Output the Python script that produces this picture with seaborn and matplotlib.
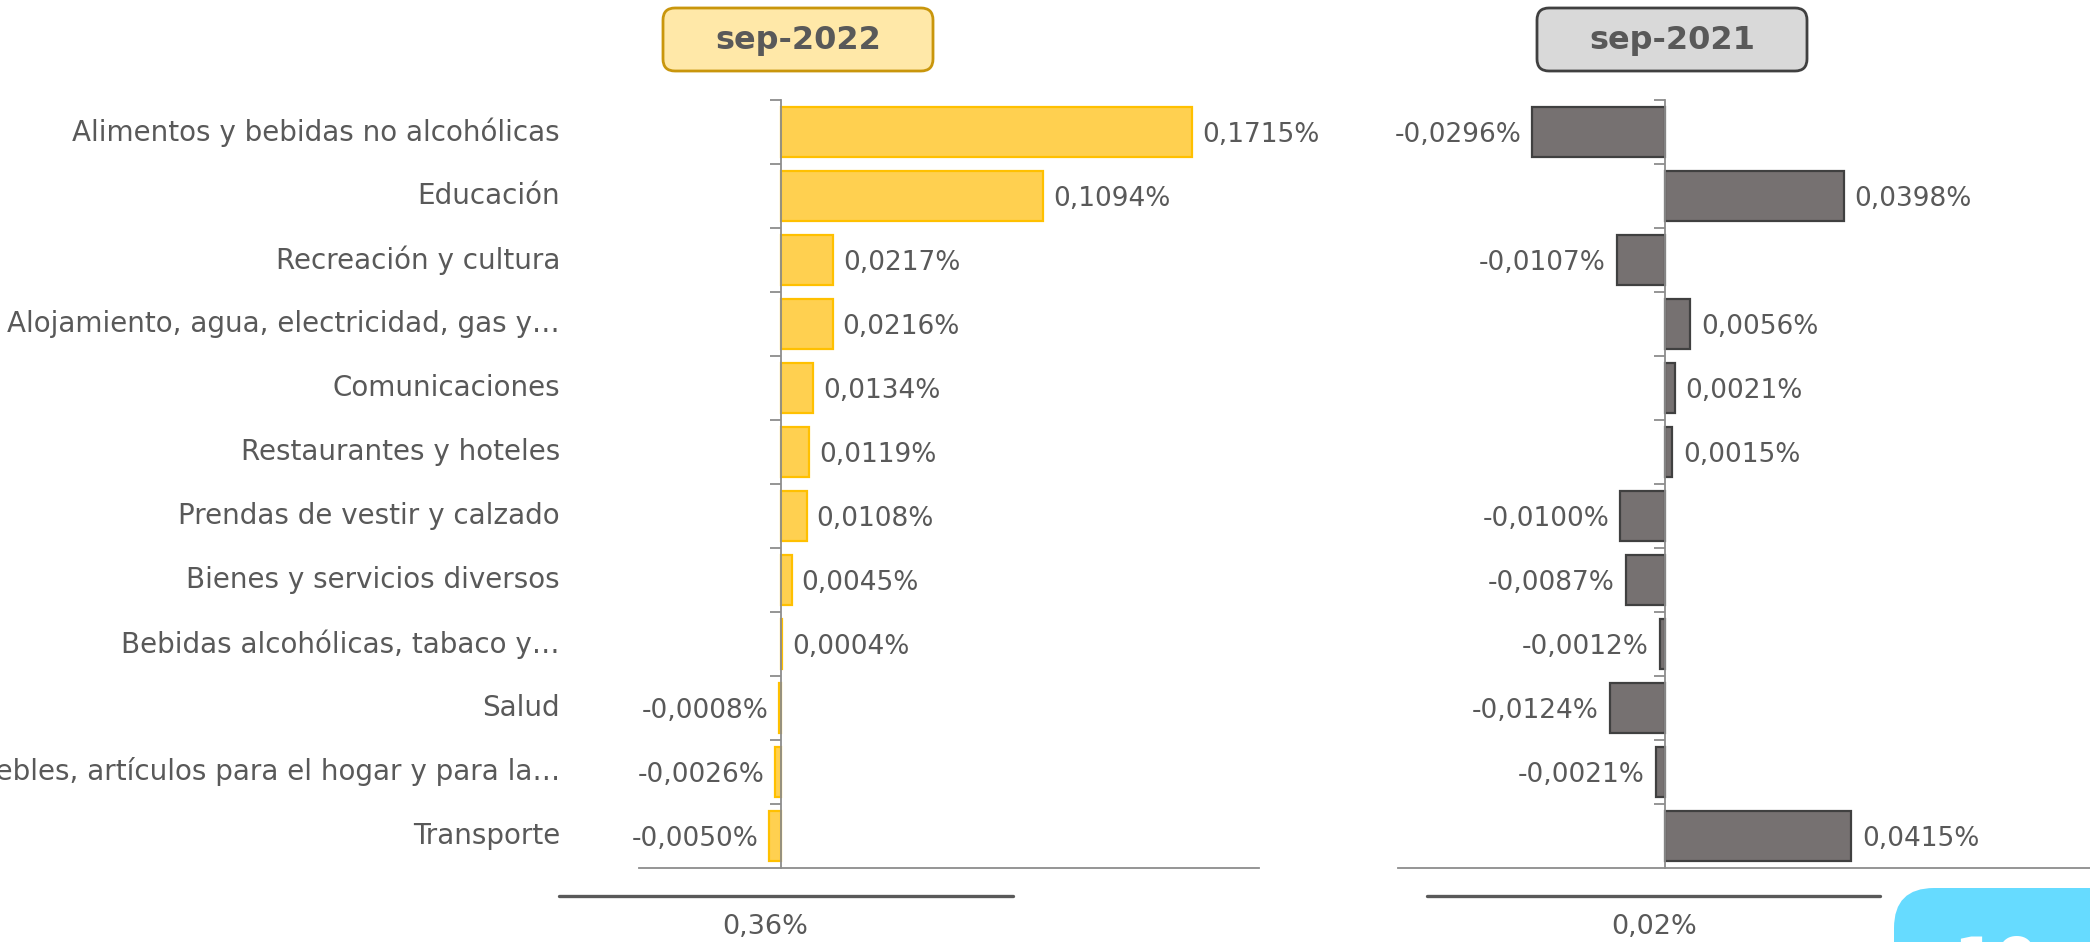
import numpy as np
import pandas as pd
import seaborn as sns
import matplotlib.pyplot as plt
import matplotlib.transforms as mtransforms
from matplotlib.patches import FancyBboxPatch
from matplotlib.lines import Line2D

# Datos del grafico
categorias = [
    'Alimentos y bebidas no alcohólicas',
    'Educación',
    'Recreación y cultura',
    'Alojamiento, agua, electricidad, gas y…',
    'Comunicaciones',
    'Restaurantes y hoteles',
    'Prendas de vestir y calzado',
    'Bienes y servicios diversos',
    'Bebidas alcohólicas, tabaco y…',
    'Salud',
    'Muebles, artículos para el hogar y para la…',
    'Transporte',
]
valores_2022 = [0.1715, 0.1094, 0.0217, 0.0216, 0.0134, 0.0119, 0.0108, 0.0045, 0.0004, -0.0008, -0.0026, -0.0050]
valores_2021 = [-0.0296, 0.0398, -0.0107, 0.0056, 0.0021, 0.0015, -0.0100, -0.0087, -0.0012, -0.0124, -0.0021, 0.0415]
titulo_2022 = 'sep-2022'
titulo_2021 = 'sep-2021'
total_2022 = '0,36%'
total_2021 = '0,02%'

df = pd.DataFrame({'categoria': categorias, 'v2022': valores_2022, 'v2021': valores_2021})

sns.set_theme(style='white')
plt.rcParams['font.family'] = ['DejaVu Sans']

GRIS_TEXTO = '#595959'
GRIS_EJE = '#8C8C8C'
W, H = 2090, 942

fig = plt.figure(figsize=(20.9, 9.42), dpi=100)


def px_ax(x0, x1, y0, y1):
    return fig.add_axes([x0 / W, 1 - y1 / H, (x1 - x0) / W, (y1 - y0) / H])


def fmt(v):
    return f'{v:.4f}'.replace('.', ',') + '%'


def panel(ax, col, color, borde, xlim):
    sns.barplot(data=df, x=col, y='categoria', order=categorias, orient='h',
                color=color, saturation=1, width=0.78, edgecolor=borde,
                linewidth=1.6, ax=ax)
    ax.set_xlim(*xlim)
    ax.set_ylim(len(categorias) - 0.5, -0.5)
    for s in ['top', 'right']:
        ax.spines[s].set_visible(False)
    ax.spines['left'].set_position(('data', 0))
    ax.spines['left'].set_color(GRIS_EJE)
    ax.spines['bottom'].set_color(GRIS_EJE)
    ax.spines['left'].set_linewidth(1.3)
    ax.spines['bottom'].set_linewidth(1.3)
    ax.set_xticks([])
    ax.set_yticks(np.arange(-0.5, len(categorias) - 0.5, 1))
    ax.set_yticklabels([])
    ax.tick_params(axis='y', direction='out', length=8, width=1.3, color=GRIS_EJE, left=True)
    ax.set_xlabel('')
    ax.set_ylabel('')
    ax.set_facecolor('none')
    # etiquetas de valor
    off = (xlim[1] - xlim[0]) * 0.016
    for i, v in enumerate(df[col]):
        if v >= 0:
            ax.text(v + off, i + 0.05, fmt(v), ha='left', va='center', fontsize=19, color=GRIS_TEXTO)
        else:
            ax.text(v - off, i + 0.05, fmt(v), ha='right', va='center', fontsize=19, color=GRIS_TEXTO)


ax1 = px_ax(639, 1259, 100, 868)
panel(ax1, 'v2022', '#FFD050', '#FFC000', (-0.0592, 0.1995))

ax2 = px_ax(1398, 2095, 100, 868)
panel(ax2, 'v2021', '#767171', '#404040', (-0.0596, 0.0959))

# nombres de categorias
trans = mtransforms.blended_transform_factory(ax1.transAxes, ax1.transData)
for i, cat in enumerate(categorias):
    ax1.text((560 - 639) / 620, i, cat, transform=trans, ha='right', va='center',
             fontsize=20, color=GRIS_TEXTO, clip_on=False)

# cajas de titulo
inch = fig.dpi_scale_trans


def caja_titulo(x0, x1, texto, fondo, borde):
    y0, y1 = 8, 71
    box = FancyBboxPatch((x0 / 100, (H - y1) / 100), (x1 - x0) / 100, (y1 - y0) / 100,
                         boxstyle='round,pad=0,rounding_size=0.12', transform=inch,
                         facecolor=fondo, edgecolor=borde, linewidth=2)
    fig.add_artist(box)
    fig.text((x0 + x1) / 2 / W, 1 - 41 / H, texto, ha='center', va='center',
             fontsize=23, fontweight='bold', color=GRIS_TEXTO)


caja_titulo(663, 933, titulo_2022, '#FFE8A8', '#C9960C')
caja_titulo(1537, 1807, titulo_2021, '#D9D9D9', '#404040')

# lineas y totales inferiores
fig.add_artist(Line2D([559 / W, 1013 / W], [1 - 896 / H, 1 - 896 / H], color=GRIS_TEXTO, lw=2.4))
fig.add_artist(Line2D([1427 / W, 1880 / W], [1 - 896 / H, 1 - 896 / H], color=GRIS_TEXTO, lw=2.4))
fig.text(765 / W, 1 - 927 / H, total_2022, ha='center', va='center', fontsize=19.5, color=GRIS_TEXTO)
fig.text(1654 / W, 1 - 927 / H, total_2021, ha='center', va='center', fontsize=19.5, color=GRIS_TEXTO)

# recuadro celeste en la esquina
fig.add_artist(FancyBboxPatch((18.94, -0.6), 2.5, 1.14,
                              boxstyle='round,pad=0,rounding_size=0.4', transform=inch,
                              facecolor='#66DBFF', edgecolor='none'))
fig.text(1996 / W, 1 - 935 / H, '10', ha='center', va='top', fontsize=44,
         fontweight='bold', color='white')

plt.savefig('out.png', dpi=100)
